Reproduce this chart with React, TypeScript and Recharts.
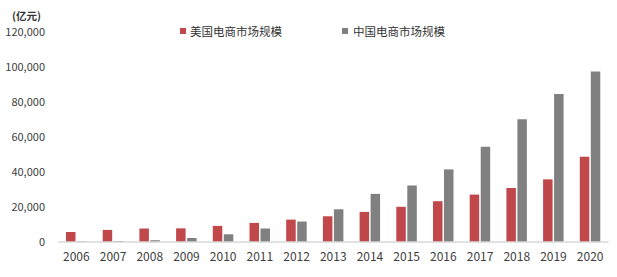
import { BarChart, Bar, XAxis, YAxis, Legend } from "recharts";

const years = [
  "2006", "2007", "2008", "2009", "2010", "2011", "2012", "2013",
  "2014", "2015", "2016", "2017", "2018", "2019", "2020",
];
const usMarket = [
  5700, 6900, 7700, 7800, 9200, 10900, 12800, 14700,
  17200, 20100, 23300, 27100, 30900, 35800, 48700,
];
const cnMarket = [
  300, 500, 1000, 2300, 4400, 7700, 11700, 18700,
  27500, 32300, 41500, 54400, 70100, 84600, 97400,
];
const yTicks = [0, 20000, 40000, 60000, 80000, 100000, 120000];

const US_NAME = "美国电商市场规模";
const CN_NAME = "中国电商市场规模";
const RED = "#C0474A";
const GRAY = "#808080";
const FONT = '"Noto Sans CJK SC", "Noto Sans", sans-serif';

const data = years.map((year, i) => ({
  year,
  us: usMarket[i],
  cn: cnMarket[i],
}));

const fmt = (v: number) => v.toLocaleString("en-US");

const LegendContent = () => (
  <div style={{ position: "relative", height: 14, fontFamily: FONT, fontSize: 11.5, color: "#333" }}>
    <div style={{ position: "absolute", left: 0, top: 0, display: "flex", alignItems: "center" }}>
      <span style={{ width: 6, height: 6, background: RED, marginRight: 4 }} />
      <span>{US_NAME}</span>
    </div>
    <div style={{ position: "absolute", left: 162, top: 0, display: "flex", alignItems: "center" }}>
      <span style={{ width: 6, height: 6, background: GRAY, marginRight: 5 }} />
      <span>{CN_NAME}</span>
    </div>
  </div>
);

const App = () => {
  return (
    <div style={{ position: "fixed", left: 0, top: 0, width: 617, height: 277, background: "#fff" }}>
      <div
        style={{
          position: "absolute",
          left: 12,
          top: 11,
          fontFamily: FONT,
          fontSize: 10.5,
          lineHeight: 1,
          fontWeight: 700,
          color: "#333",
        }}
      >
        (亿元)
      </div>
      <BarChart
        width={617}
        height={277}
        data={data}
        margin={{ top: 18, right: 8.5, bottom: 0, left: 0 }}
        barSize={9.5}
        barGap={1.5}
      >
        <XAxis
          dataKey="year"
          axisLine={{ stroke: "#d9d9d9", strokeWidth: 1.5 }}
          tickLine={false}
          tickMargin={4}
          height={35}
          tick={{ fontFamily: FONT, fontSize: 12, fill: "#404040" }}
        />
        <YAxis
          width={58}
          domain={[0, 120000]}
          ticks={yTicks}
          axisLine={false}
          tickLine={false}
          tickMargin={7}
          tickFormatter={fmt}
          tick={{ fontFamily: FONT, fontSize: 11, fill: "#404040" }}
        />
        <Legend
          verticalAlign="top"
          content={LegendContent}
          wrapperStyle={{ top: 23, left: 180, width: 300 }}
        />
        <Bar dataKey="us" name={US_NAME} fill={RED} isAnimationActive={false} />
        <Bar dataKey="cn" name={CN_NAME} fill={GRAY} isAnimationActive={false} />
      </BarChart>
    </div>
  );
};

export default App;
